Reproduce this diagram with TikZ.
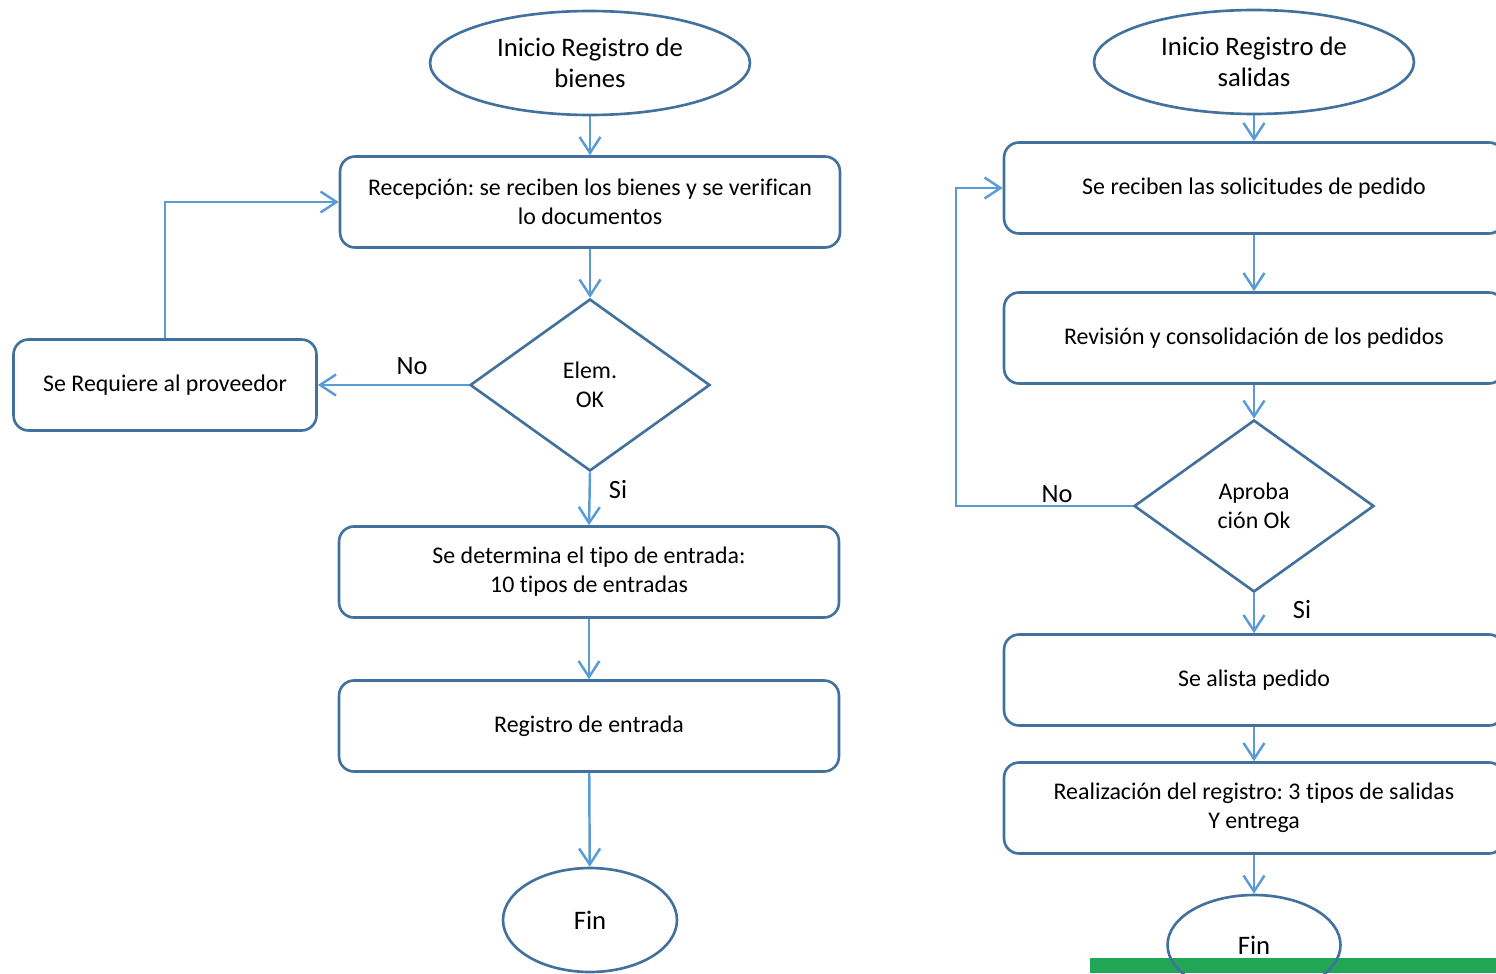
\documentclass[tikz,border=0pt]{standalone}
\usepackage{fontspec}
\setmainfont[Ligatures=NoCommon]{Carlito}
\usetikzlibrary{arrows.meta,shapes.geometric}

\definecolor{nodeblue}{RGB}{65,113,156}
\definecolor{arrowblue}{RGB}{91,155,213}
\definecolor{bargreen}{RGB}{33,166,85}

\tikzset{
 every node/.style={font=\fontsize{13.6}{16.5}\selectfont, align=center, text=black},
 terminal/.style={ellipse, draw=nodeblue, line width=1.5pt, inner sep=0pt, minimum width=6.4cm, minimum height=2.08cm, font=\fontsize{15.2}{18}\selectfont},
 process/.style={rectangle, rounded corners=0.3cm, draw=nodeblue, line width=1.5pt, minimum width=10cm, minimum height=1.82cm},
 decision/.style={diamond, draw=nodeblue, line width=1.5pt, inner sep=0pt, minimum width=4.8cm, minimum height=3.44cm},
 flow/.style={draw=arrowblue, line width=1.4pt, -{Straight Barb[length=0.32cm, width=0.42cm]}},
 answer/.style={font=\fontsize{15}{16}\selectfont}
}

\begin{document}
\frenchspacing
\begin{tikzpicture}[x=0.02cm, y=-0.02cm]
 \useasboundingbox (0,0) rectangle (1496,973);
 \clip (0,0) rectangle (1496,973);

 \node [terminal] (start1) at (590,63) {Inicio Registro de\\bienes};
 \node [process] (recep) at (590,202) {Recepción: se reciben los bienes y se verifican\\lo documentos};
 \node [decision] (ok1) at (590,385) {Elem.\\OK};
 \node [process, minimum width=6.06cm] (prov) at (165,385) {Se Requiere al proveedor};
 \node [process] (tipo) at (589,572) {Se determina el tipo de entrada:\\10 tipos de entradas};
 \node [process] (reg) at (589,726) {Registro de entrada};
 \node [terminal, minimum width=3.48cm] (fin1) at (590,920) {Fin};
 \node [answer] (no1) at (412,366) {No};
 \node [answer] (si1) at (618,490) {Si};

 \draw [flow] (start1) -- (recep);
 \draw [flow] (recep) -- (ok1);
 \draw [flow] (ok1.west) -- (prov.east);
 \draw [flow] (prov.north) |- (recep.west);
 \draw [flow] (ok1.south) -- (tipo.north);
 \draw [flow] (tipo) -- (reg);
 \draw [flow] (reg) -- (fin1);

 \fill [bargreen] (1090,958) rectangle (1496,973);

 \node [terminal] (start2) at (1254,62) {Inicio Registro de\\salidas};
 \node [process] (sol) at (1254,188) {Se reciben las solicitudes de pedido};
 \node [process] (rev) at (1254,338) {Revisión y consolidación de los pedidos};
 \node [decision] (apr) at (1254,506) {Aproba\\ción Ok};
 \node [process] (alist) at (1254,680) {Se alista pedido};
 \node [process] (realiz) at (1254,808) {Realización del registro: 3 tipos de salidas\\Y entrega};
 \node [terminal, minimum width=3.46cm, minimum height=2cm] (fin2) at (1254,945) {Fin};
 \node [answer] (no2) at (1057,494) {No};
 \node [answer] (si2) at (1302,610) {Si};
 \coordinate (back) at (956,506);

 \draw [flow] (start2) -- (sol);
 \draw [flow] (sol) -- (rev);
 \draw [flow] (rev) -- (apr);
 \draw [flow] (apr.west) -- (back) |- (sol.west);
 \draw [flow] (apr.south) -- (alist.north);
 \draw [flow] (alist) -- (realiz);
 \draw [flow] (realiz) -- (fin2);
\end{tikzpicture}
\end{document}
